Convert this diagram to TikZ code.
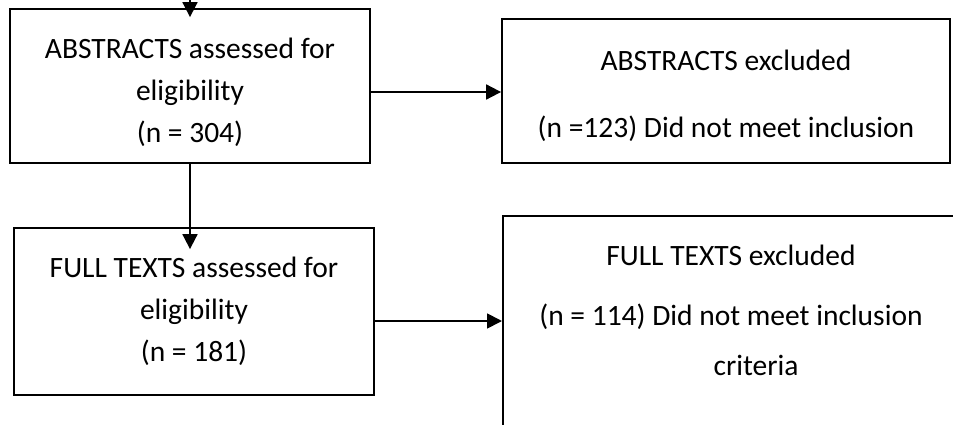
\documentclass[tikz,border=0pt]{standalone}
\usepackage{fontspec}
\setmainfont{Carlito}
\usetikzlibrary{positioning, arrows.meta}

\begin{document}
\begin{tikzpicture}[x=1pt, y=1pt, >={Triangle[length=15pt,width=15pt]}] % Arrow tip style
    % Fix the canvas and cut off what runs past it
    \useasboundingbox (0,0) rectangle (953,-425);
    \clip (0,0) rectangle (953,-425);
    \tikzset{
        box/.style={draw, rectangle, line width=1.8pt, inner sep=0pt, align=center, font=\fontsize{29.5}{42}\selectfont},
        link/.style={line width=1.8pt, ->}
    }

    % Boxes of the left column
    \node[box, minimum width=360pt, minimum height=154pt] (absElig) at (190,-86) {\rule{0pt}{33pt}ABSTRACTS assessed for\\eligibility\\(n = 304)};
    \node[box, minimum width=360pt, minimum height=167pt] (fullElig) at (194,-311.5) {FULL TEXTS assessed for\\eligibility\\(n = 181)};

    % Boxes of the right column
    \node[box, minimum width=448pt, minimum height=144pt] (absExcl) at (726,-91) {\rule{0pt}{30pt}ABSTRACTS excluded\\[25pt](n =123) Did not meet inclusion};
    \node[box, minimum width=520pt, minimum height=260pt, anchor=north west] (fullExcl) at (502,-215) {};
    \node[align=center, inner sep=0pt, font=\fontsize{29.5}{42}\selectfont] (fullExclText) at (731,-310) {FULL TEXTS excluded\\[18pt](n = 114) Did not meet inclusion\\[8pt]\hspace*{50pt}criteria};

    % Arrows
    \coordinate (entry) at (190,0);
    \draw[link, shorten >=-9pt] (entry) -- (absElig.north);
    \draw[link, shorten >=-22pt] (absElig.south) -- (absElig.south |- fullElig.north);
    \draw[link] ([yshift=-6pt]absElig.east) -- ([yshift=-6pt]absElig.east -| absExcl.west);
    \draw[link] ([yshift=-9.5pt]fullElig.east) -- ([yshift=-9.5pt]fullElig.east -| fullExcl.west);
\end{tikzpicture}
\end{document}
